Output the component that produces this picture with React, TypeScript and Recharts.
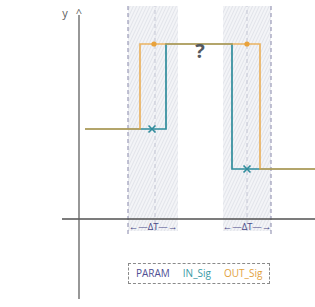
import {
  ComposedChart,
  Line,
  Scatter,
  XAxis,
  YAxis,
  ReferenceArea,
  ReferenceLine,
  ReferenceDot,
  Legend,
} from "recharts";

// signal levels / times (arbitrary units)
const outSig = [
  { t: 0.6, v: 9 },
  { t: 6.1, v: 17.5 },
  { t: 18.1, v: 5 },
  { t: 23.6, v: 5 },
];
const inSig = [
  { t: 0.6, v: 9 },
  { t: 8.7, v: 17.5 },
  { t: 15.3, v: 5 },
  { t: 23.6, v: 5 },
];
const outMarks = [
  { t: 7.5, v: 17.5 },
  { t: 16.8, v: 17.5 },
];
const inMarks = [
  { t: 7.3, v: 9 },
  { t: 16.8, v: 5 },
];
// PARAM windows: start, centre, end
const windows = [
  { x1: 4.9, mid: 7.6, x2: 9.9, edge: 4.9 },
  { x1: 14.4, mid: 16.8, x2: 19.2, edge: 19.2 },
];
const legendItems = [
  { label: "PARAM", color: "#4f4f94" },
  { label: "IN_Sig", color: "#3a9aa6" },
  { label: "OUT_Sig", color: "#e2a23e" },
];

const ORANGE = "#e9a23b";
const TEAL = "#2f8c9c";
const FONT = "'Open Sans', sans-serif";

const XMark = (props: any) => {
  const { cx, cy } = props;
  const s = 3.5;
  return (
    <path
      d={`M${cx - s},${cy - s}L${cx + s},${cy + s}M${cx - s},${cy + s}L${cx + s},${cy - s}`}
      stroke={TEAL}
      strokeWidth={1.6}
      fill="none"
    />
  );
};

const Dot = (props: any) => <circle cx={props.cx} cy={props.cy} r={2.6} fill={ORANGE} />;

const LegendBox = () => (
  <div
    style={{
      display: "flex",
      gap: 13,
      border: "1px dashed #8a8a8a",
      padding: "2px 7px 3px 7px",
      fontFamily: FONT,
      fontSize: 10,
      width: "fit-content",
    }}
  >
    {legendItems.map((it) => (
      <span key={it.label} style={{ color: it.color }}>
        {it.label}
      </span>
    ))}
  </div>
);

export default function App() {
  return (
    <div style={{ position: "absolute", left: 0, top: 0, background: "#fff" }}>
      <ComposedChart
        width={315}
        height={307}
        margin={{ top: 4, right: 0, left: 62, bottom: 8 }}
      >
        <defs>
          <pattern
            id="hatch"
            width="3"
            height="3"
            patternUnits="userSpaceOnUse"
            patternTransform="rotate(25)"
          >
            <rect width="3" height="3" fill="#f3f4f7" />
            <line x1="0" y1="0" x2="0" y2="3" stroke="#d2d5de" strokeWidth="1" />
          </pattern>
        </defs>
        <XAxis dataKey="t" type="number" domain={[-1.7, 23.6]} hide />
        <YAxis dataKey="v" type="number" domain={[-8, 21.5]} hide />

        {windows.map((w, i) => (
          <ReferenceArea
            key={`a${i}`}
            x1={w.x1}
            x2={w.x2}
            y1={-1.2}
            y2={21.3}
            fill="url(#hatch)"
            fillOpacity={1}
            stroke="none"
          />
        ))}
        {windows.map((w, i) => (
          <ReferenceLine
            key={`e${i}`}
            segment={[
              { x: w.edge, y: -1.5 },
              { x: w.edge, y: 21.3 },
            ]}
            stroke="#8585a8"
            strokeDasharray="4 3"
          />
        ))}
        {windows.map((w, i) => (
          <ReferenceLine
            key={`m${i}`}
            segment={[
              { x: w.mid, y: -1.2 },
              { x: w.mid, y: 21.3 },
            ]}
            stroke="#c4c6d4"
            strokeDasharray="4 3"
          />
        ))}
        {windows.map((w, i) => (
          <ReferenceArea
            key={`d${i}`}
            x1={w.x1}
            x2={w.x2}
            y1={-1.5}
            y2={-0.1}
            fill="none"
            stroke="none"
            label={{
              value: "←—ΔT—→",
              position: "center",
              fill: "#4a4a88",
              fontSize: 9.5,
              fontFamily: FONT,
            }}
          />
        ))}

        {/* axes */}
        <ReferenceLine
          segment={[
            { x: -1.7, y: 0 },
            { x: 23.6, y: 0 },
          ]}
          stroke="#505050"
          strokeWidth={1.6}
        />
        <ReferenceLine
          segment={[
            { x: 0, y: -8 },
            { x: 0, y: 20.4 },
          ]}
          stroke="#606060"
          strokeWidth={1.3}
        />
        <ReferenceDot
          x={0}
          y={20.6}
          r={0}
          label={{ value: "^", position: "center", fill: "#606060", fontSize: 11, fontFamily: FONT }}
        />
        <ReferenceDot
          x={-1.4}
          y={20.6}
          r={0}
          label={{ value: "y", position: "center", fill: "#606060", fontSize: 11, fontFamily: FONT }}
        />

        <Line
          data={inSig}
          dataKey="v"
          type="stepAfter"
          stroke={TEAL}
          strokeWidth={1.7}
          dot={false}
          isAnimationActive={false}
          name="IN_Sig"
        />
        <Line
          data={outSig}
          dataKey="v"
          type="stepAfter"
          stroke={ORANGE}
          strokeOpacity={0.8}
          strokeWidth={1.7}
          dot={false}
          isAnimationActive={false}
          name="OUT_Sig"
        />
        <Scatter data={outMarks} shape={Dot} isAnimationActive={false} />
        <Scatter data={inMarks} shape={XMark} isAnimationActive={false} />
        <ReferenceDot
          x={12.1}
          y={16.8}
          r={0}
          label={{
            value: "?",
            position: "center",
            fill: "#555a60",
            fontSize: 20,
            fontWeight: 700,
            fontFamily: FONT,
          }}
        />

        <Legend
          layout="horizontal"
          verticalAlign="middle"
          align="center"
          content={LegendBox}
          wrapperStyle={{ left: 128, top: 263, width: "auto" }}
        />
      </ComposedChart>
    </div>
  );
}
